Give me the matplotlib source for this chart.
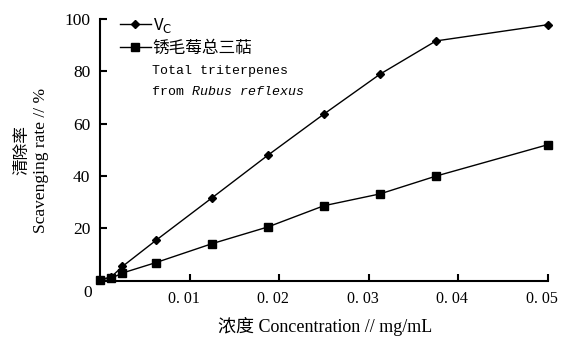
import matplotlib
matplotlib.use('agg')
import matplotlib.pyplot as plt
import matplotlib.transforms as mtransforms
from matplotlib.lines import Line2D

# concentration (mg/mL) and scavenging rate (%)
conc = [0.0, 0.00125, 0.0025, 0.00625, 0.0125, 0.01875, 0.025, 0.03125, 0.0375, 0.05]
vc_rate = [0.5, 1.5, 5.5, 15.5, 31.7, 48.0, 63.7, 78.9, 91.6, 97.8]
rrt_rate = [0.5, 1.0, 3.0, 7.0, 14.2, 20.6, 28.7, 33.2, 40.0, 52.0]

xticks = [0.01, 0.02, 0.03, 0.04, 0.05]
xticklabels = ["0. 01", "0. 02", "0. 03", "0. 04", "0. 05"]
yticks = [20, 40, 60, 80, 100]

serif = ['Liberation Serif', 'Noto Sans CJK SC']
cjk = ['Noto Sans CJK SC', 'DejaVu Sans']
mono = ['Liberation Mono', 'Noto Sans CJK SC']

fig = plt.figure(figsize=(5.62, 3.38), dpi=100)
ax = fig.add_axes([0.178, 0.169, 0.797, 0.775])

ax.plot(conc, vc_rate, color='black', lw=1.0, marker='D', ms=3.8, clip_on=False)
ax.plot(conc, rrt_rate, color='black', lw=1.0, marker='s', ms=6, clip_on=False)

ax.set_xlim(0, 0.05)
ax.set_ylim(0, 100)
for s in ['top', 'right']:
    ax.spines[s].set_visible(False)
for s in ['left', 'bottom']:
    ax.spines[s].set_linewidth(1.5)

ax.set_xticks(xticks)
ax.set_xticklabels(xticklabels, family=serif, fontsize=11.5)
ax.set_yticks(yticks)
ax.set_yticklabels([str(v) for v in yticks], family=serif, fontsize=12.5)
ax.tick_params(direction='in', length=5, width=1.5, pad=7)
# nudge x tick labels a little to the left so the last one stays inside
shift = mtransforms.ScaledTranslation(-6 / 100, 0, fig.dpi_scale_trans)
for lbl in ax.get_xticklabels():
    lbl.set_transform(lbl.get_transform() + shift)
ax.text(-0.018, -0.015, "0", transform=ax.transAxes, ha='right', va='top',
        family=serif, fontsize=12.5)

# axis titles
fig.text(0.038, 0.555, "清除率", rotation=90, ha='center', va='center',
         family=cjk, fontsize=12)
fig.text(0.073, 0.525, "Scavenging rate // %", rotation=90, ha='center', va='center',
         family=serif, fontsize=12.5)
fig.text(0.578, 0.035, "浓度 Concentration // mg/mL", ha='center', va='center',
         family=serif, fontsize=13)

# legend
handles = [Line2D([], [], color='black', lw=1.0, marker='D', ms=3.8),
           Line2D([], [], color='black', lw=1.0, marker='s', ms=6)]
leg = ax.legend(handles, ["V$_\\mathrm{C}$", "锈毛莓总三萜"], loc='upper left',
                bbox_to_anchor=(0.01, 1.07), frameon=False, handlelength=1.9,
                handletextpad=0.1, labelspacing=0.3, prop={'family': cjk, 'size': 12})
t1 = ax.text(0.116, 0.80, "Total triterpenes", transform=ax.transAxes,
             family=mono, fontsize=9.5, va='center')
t2 = ax.text(0.116, 0.721, "from ", transform=ax.transAxes,
             family=mono, fontsize=9.5, va='center')
ax.annotate("Rubus reflexus", xy=(1, 0), xycoords=t2, va='bottom',
            family=mono, style='italic', fontsize=9.5)

fig.savefig("out.png", dpi=100)
